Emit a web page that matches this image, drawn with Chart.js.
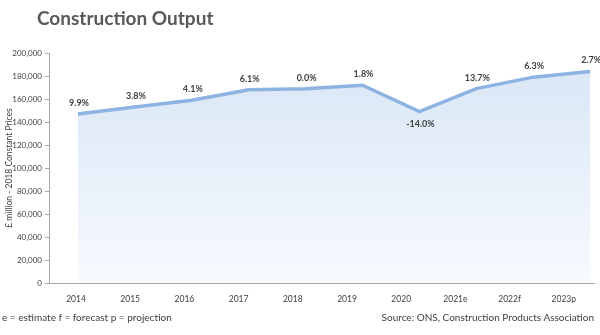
<!DOCTYPE html>
<html>
<head>
<meta charset="utf-8">
<script src="https://cdn.jsdelivr.net/npm/chart.js@4.4.1/dist/chart.umd.min.js"></script>
<style>
  html, body { margin: 0; padding: 0; background: #fff; }
  #wrap { position: relative; width: 600px; height: 335px; overflow: hidden; font-family: Lato, "Open Sans", sans-serif; }
  #title { position: absolute; left: 37px; top: 6px; font-size: 19px; font-weight: bold; color: #595959; white-space: nowrap; }
  #note { position: absolute; left: 2px; top: 311px; font-size: 10px; color: #404040; white-space: nowrap; }
  #source { position: absolute; right: 6px; top: 311px; font-size: 10px; color: #404040; white-space: nowrap; }
  #c { position: absolute; left: 0; top: 0; }
</style>
</head>
<body>
<div id="wrap">
  <canvas id="c" width="600" height="335"></canvas>
  <div id="title">Construction Output</div>
  <div id="note">e = estimate f = forecast p = projection</div>
  <div id="source">Source: ONS, Construction Products Association</div>
</div>
<script>
// Years shown along the bottom axis
const years = ['2014', '2015', '2016', '2017', '2018', '2019', '2020', '2021e', '2022f', '2023p'];
// Construction output, £ million at 2018 constant prices
const output = [147000, 153000, 159000, 168000, 169000, 172000, 149000, 169000, 179000, 184000];
// Annual change labelled at each point
const growth = ['9.9%', '3.8%', '4.1%', '6.1%', '0.0%', '1.8%', '-14.0%', '13.7%', '6.3%', '2.7%'];
// Value axis ticks
const yTicks = [0, 20000, 40000, 60000, 80000, 100000, 120000, 140000, 160000, 180000, 200000];

const FONT = 'Lato, "Open Sans", sans-serif';
const TEXT = '#404040';
const AXIS = '#a6a6a6';

const points = output.map((v, i) => ({ x: i, y: v }));

// Writes the growth figure above each point (below for a fall)
const growthLabels = {
  id: 'growthLabels',
  afterDatasetsDraw(chart) {
    const ctx = chart.ctx;
    const meta = chart.getDatasetMeta(0);
    ctx.save();
    ctx.font = 'bold 9px ' + FONT;
    ctx.fillStyle = '#404040';
    ctx.textAlign = 'center';
    ctx.textBaseline = 'middle';
    meta.data.forEach((el, i) => {
      const txt = growth[i];
      const dy = txt.startsWith('-') ? 12 : -11;
      ctx.fillText(txt, el.x + 1, el.y + dy);
    });
    ctx.restore();
  }
};

new Chart(document.getElementById('c'), {
  type: 'line',
  data: {
    datasets: [{
      data: points,
      borderColor: '#8db3e2',
      borderWidth: 3.5,
      pointRadius: 0,
      tension: 0,
      fill: 'origin',
      backgroundColor(context) {
        const { chart } = context;
        const area = chart.chartArea;
        if (!area) return 'rgba(220,232,246,0.8)';
        const g = chart.ctx.createLinearGradient(0, area.top, 0, area.bottom);
        g.addColorStop(0, '#d8e5f5');
        g.addColorStop(1, '#f7faff');
        return g;
      },
      xAxisID: 'x'
    }]
  },
  options: {
    responsive: false,
    animation: false,
    layout: { padding: { top: 53, right: 6, left: 4, bottom: 32 } },
    plugins: { legend: { display: false }, tooltip: { enabled: false } },
    scales: {
      x: {
        type: 'linear',
        display: false,
        min: -0.5097,
        max: 9.068
      },
      xLabels: {
        type: 'linear',
        position: 'bottom',
        min: -0.498,
        max: 9.557,
        afterBuildTicks(scale) {
          scale.ticks = years.map((_, i) => ({ value: i }));
        },
        afterFit(scale) { scale.height = 20; },
        grid: { display: true, drawOnChartArea: false, drawTicks: false },
        border: { display: true, color: AXIS, width: 1 },
        ticks: {
          autoSkip: false,
          maxRotation: 0,
          padding: 11,
          color: TEXT,
          font: { family: FONT, size: 8.5 },
          callback: (v) => years[v] ?? ''
        }
      },
      y: {
        min: 0,
        max: 200000,
        afterBuildTicks(scale) {
          scale.ticks = yTicks.map(v => ({ value: v }));
        },
        afterFit(scale) { scale.width = 45; },
        grid: { display: true, drawOnChartArea: false, drawTicks: true, tickLength: 4, color: AXIS },
        border: { display: true, color: AXIS, width: 1 },
        ticks: {
          padding: 3,
          color: TEXT,
          font: { family: FONT, size: 8 },
          callback: (v) => v.toLocaleString('en-GB')
        },
        title: {
          display: true,
          text: '£ million - 2018 Constant Prices',
          color: TEXT,
          font: { family: FONT, size: 8.5 },
          padding: { top: 0, bottom: 2 }
        }
      }
    }
  },
  plugins: [growthLabels]
});
</script>
</body>
</html>
